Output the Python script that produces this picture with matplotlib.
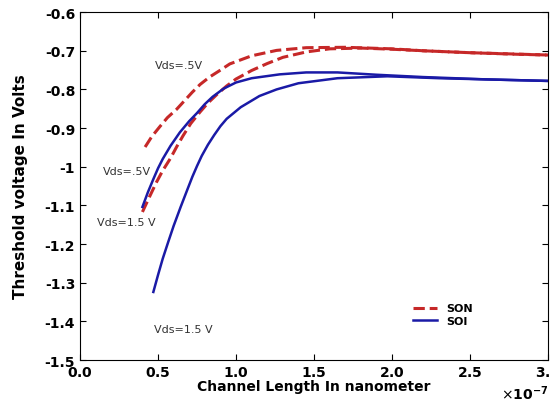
import numpy as np
import matplotlib.pyplot as plt
from matplotlib.ticker import ScalarFormatter

# channel length (x1e-7 m) and threshold voltage (V)
L_son_05 = [0.417, 0.46, 0.51, 0.56, 0.62, 0.67, 0.72, 0.77, 0.83, 0.9, 0.96, 1.1, 1.26, 1.45, 1.7,
            2.0, 2.2, 2.5, 2.8, 3.0]
V_son_05 = [-0.949, -0.922, -0.897, -0.873, -0.851, -0.829, -0.807, -0.787, -0.768, -0.75, -0.734,
            -0.713, -0.699, -0.692, -0.691, -0.695, -0.70, -0.705, -0.709, -0.711]

L_son_15 = [0.40, 0.445, 0.49, 0.53, 0.58, 0.62, 0.66, 0.71, 0.77, 0.82, 0.88, 0.94, 1.0, 1.1, 1.2,
            1.3, 1.45, 1.6, 1.8, 2.0, 2.2, 2.5, 3.0]
V_son_15 = [-1.117, -1.078, -1.04, -1.01, -0.978, -0.948, -0.92, -0.888, -0.858, -0.835, -0.812,
            -0.791, -0.773, -0.751, -0.733, -0.717, -0.703, -0.695, -0.693, -0.696, -0.70, -0.705, -0.711]

L_soi_05 = [0.40, 0.435, 0.47, 0.5, 0.53, 0.58, 0.64, 0.7, 0.75, 0.8, 0.85, 0.92, 1.0, 1.1, 1.28,
            1.45, 1.65, 1.9, 2.2, 2.6, 3.0]
V_soi_05 = [-1.104, -1.066, -1.032, -1.004, -0.98, -0.946, -0.911, -0.882, -0.861, -0.838, -0.819,
            -0.798, -0.782, -0.771, -0.761, -0.756, -0.756, -0.762, -0.768, -0.774, -0.778]

L_soi_15 = [0.47, 0.5, 0.53, 0.565, 0.6, 0.645, 0.69, 0.72, 0.75, 0.78, 0.82, 0.86, 0.9, 0.94, 1.03,
            1.15, 1.26, 1.4, 1.65, 1.97, 2.3, 2.7, 3.0]
V_soi_15 = [-1.324, -1.28, -1.238, -1.195, -1.153, -1.104, -1.057, -1.026, -0.998, -0.972, -0.943,
            -0.918, -0.895, -0.876, -0.846, -0.817, -0.8, -0.784, -0.771, -0.766, -0.771, -0.775, -0.778]

red = '#c62828'
blue = '#1a1aa6'

fig = plt.figure(figsize=(5.5, 4.1), dpi=100)
ax = fig.add_axes([0.1455, 0.1195, 0.851, 0.8485])

sc = 1e-7
ax.plot(np.array(L_son_05) * sc, V_son_05, '--', color=red, lw=2.2, label='SON')
ax.plot(np.array(L_son_15) * sc, V_son_15, '--', color=red, lw=2.2)
ax.plot(np.array(L_soi_05) * sc, V_soi_05, '-', color=blue, lw=1.8, label='SOI')
ax.plot(np.array(L_soi_15) * sc, V_soi_15, '-', color=blue, lw=1.8)

ax.set_xlim(0, 3e-7)
ax.set_ylim(-1.5, -0.6)
ax.set_yticks(np.arange(-1.5, -0.55, 0.1))
ax.set_yticklabels(['-1.5', '-1.4', '-1.3', '-1.2', '-1.1', '-1', '-0.9', '-0.8', '-0.7', '-0.6'])

fmt = ScalarFormatter(useMathText=True)
fmt.set_powerlimits((0, 0))
ax.xaxis.set_major_formatter(fmt)
ax.xaxis.get_offset_text().set_fontsize(10)
ax.xaxis.get_offset_text().set_fontweight('bold')

ax.tick_params(direction='in', top=True, right=True, labelsize=10, length=4)
for lab in ax.get_xticklabels() + ax.get_yticklabels():
    lab.set_fontweight('bold')

ax.set_xlabel('Channel Length In nanometer', fontweight='bold', fontsize=10, labelpad=0)
ax.set_ylabel('Threshold voltage In Volts', fontweight='bold', fontsize=11, labelpad=12)

tc = '#333333'
ax.text(0.48e-7, -0.737, 'Vds=.5V', fontsize=8, color=tc, va='center')
ax.text(0.147e-7, -1.011, 'Vds=.5V', fontsize=8, color=tc, va='center')
ax.text(0.109e-7, -1.143, 'Vds=1.5 V', fontsize=8, color=tc, va='center')
ax.text(0.474e-7, -1.419, 'Vds=1.5 V', fontsize=8, color=tc, va='center')

leg = ax.legend(loc='lower right', bbox_to_anchor=(0.86, 0.07), frameon=False,
                prop={'weight': 'bold', 'size': 8}, handlelength=2.2, labelspacing=0.2)

fig.savefig('out.png', dpi=100)
